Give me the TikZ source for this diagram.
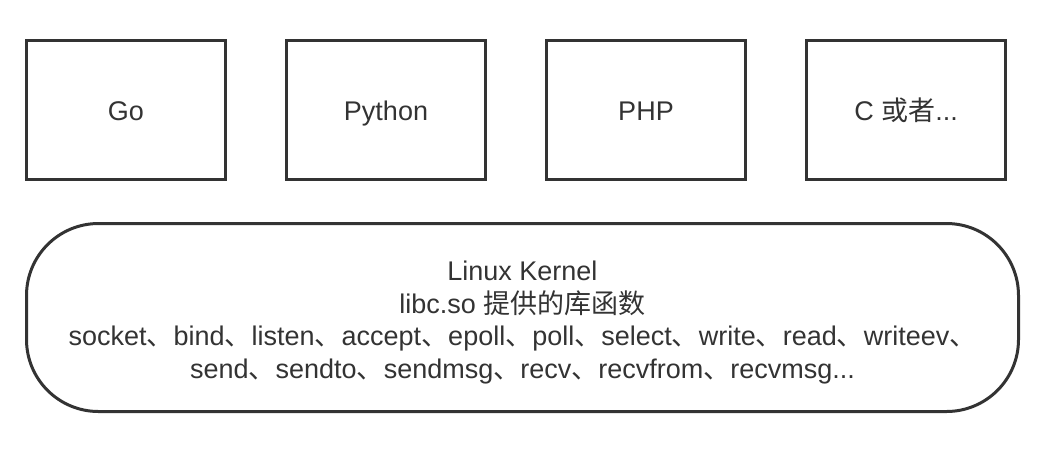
\documentclass[tikz,border=0pt]{standalone}
\usepackage{fontspec}
\setmainfont{Liberation Sans}
\newfontfamily\cjk{Noto Sans CJK SC}
\usetikzlibrary{positioning}
\definecolor{ink}{HTML}{333333}
\newcommand{\dun}{{\cjk 、}}

\begin{document}
\begin{tikzpicture}[x=1pt, y=-1pt, node font=\fontsize{27}{32.5}\selectfont, every node/.style={text=ink},
    langbox/.style={draw=ink, line width=3pt, minimum width=199pt, minimum height=139pt, inner sep=0pt,
                    text height=0.9em, text depth=0.1em}]
    \useasboundingbox (0,0) rectangle (1060,448);
    \node[langbox] (go) at (126,110) {Go};
    \node[langbox, right=58pt of go] (python) {Python};
    \node[langbox, right=58pt of python] (php) {PHP};
    \node[langbox, right=58pt of php] (c) {C {\cjk 或者}...};
    \node[draw=ink, line width=3pt, rounded corners=72pt, minimum width=992pt, minimum height=188pt,
          align=center, inner sep=0pt, text depth=0pt] (kernel) at (522.5,317.5) {};
    \node[align=center, inner sep=0pt] (calls) at ([yshift=-5pt]kernel.center)
        {Linux Kernel\\
         libc.so {\cjk 提供的库函数}\\
         socket\dun bind\dun listen\dun accept\dun epoll\dun poll\dun select\dun write\dun read\dun writeev\dun\\
         send\dun sendto\dun sendmsg\dun recv\dun recvfrom\dun recvmsg...};
\end{tikzpicture}
\end{document}
